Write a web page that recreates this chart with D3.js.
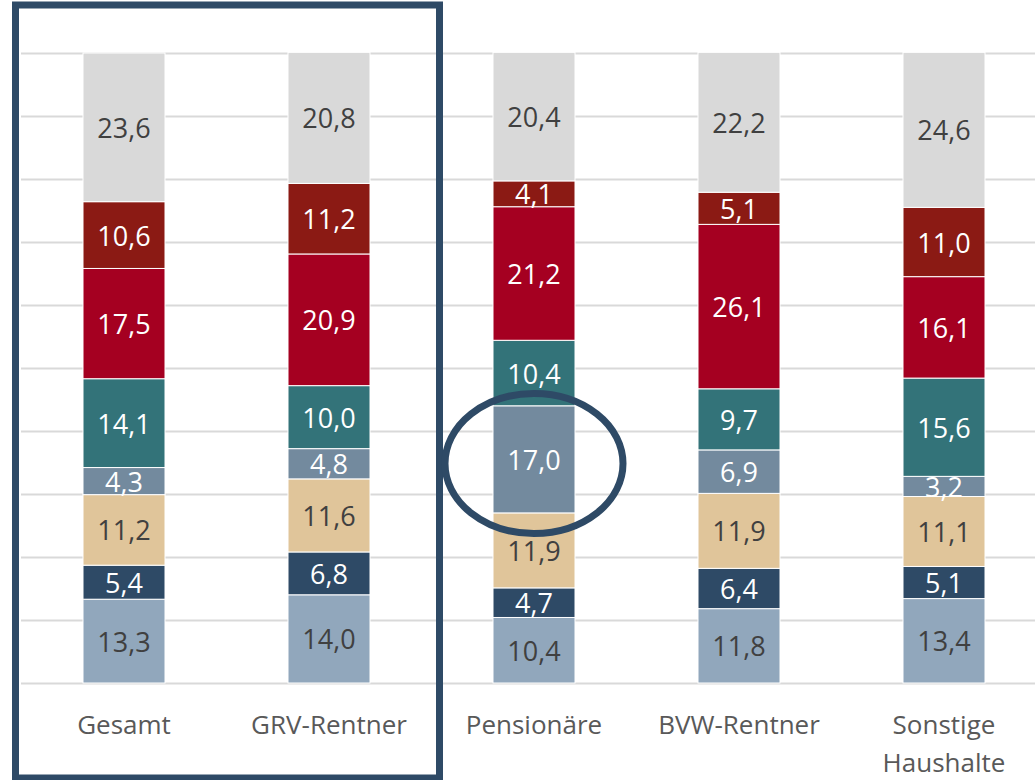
<!DOCTYPE html>
<html>
<head>
<meta charset="utf-8">
<script src="https://cdn.jsdelivr.net/npm/d3@7"></script>
<style>
  html, body { margin: 0; padding: 0; background: #fff; }
  svg { display: block; }
</style>
</head>
<body>
<svg id="chart" width="1035" height="780"></svg>
<script>
// categories, bottom-to-top segments
const categories = ["Gesamt", "GRV-Rentner", "Pensionäre", "BVW-Rentner", "Sonstige Haushalte"];
const seg1 = [13.3, 14.0, 10.4, 11.8, 13.4];
const seg2 = [5.4, 6.8, 4.7, 6.4, 5.1];
const seg3 = [11.2, 11.6, 11.9, 11.9, 11.1];
const seg4 = [4.3, 4.8, 17.0, 6.9, 3.2];
const seg5 = [14.1, 10.0, 10.4, 9.7, 15.6];
const seg6 = [17.5, 20.9, 21.2, 26.1, 16.1];
const seg7 = [10.6, 11.2, 4.1, 5.1, 11.0];
const seg8 = [23.6, 20.8, 20.4, 22.2, 24.6];
const gridTicks = [0, 10, 20, 30, 40, 50, 60, 70, 80, 90, 100];

const series = [seg1, seg2, seg3, seg4, seg5, seg6, seg7, seg8];
const colors = ["#91a7bc", "#2e4a66", "#e0c59a", "#738a9e", "#337379", "#a50021", "#8b1a14", "#d9d9d9"];
const textColors = ["#404040", "#fff", "#404040", "#fff", "#fff", "#fff", "#fff", "#404040"];

const svg = d3.select("#chart");

const x = d3.scaleBand()
    .domain(categories)
    .range([21.5, 1046.5])
    .paddingInner(0.6)
    .paddingOuter(0.3);

const y = d3.scaleLinear()
    .domain([0, 100])
    .range([683, 53]);

// gridlines
svg.append("g")
    .attr("transform", "translate(21,0)")
    .call(d3.axisLeft(y).tickValues(gridTicks).tickSize(-1030).tickFormat(""))
    .call(g => g.select(".domain").remove())
    .call(g => g.selectAll(".tick line").attr("stroke", "#d9d9d9").attr("stroke-width", 2));

// stack the segments
const rows = categories.map((c, i) => {
    const r = { cat: c };
    series.forEach((s, k) => { r["s" + k] = s[i]; });
    return r;
});
const keys = series.map((s, k) => "s" + k);
const stacked = d3.stack().keys(keys)(rows);

const layers = svg.append("g").selectAll("g")
    .data(stacked)
    .join("g")
    .attr("fill", (d, k) => colors[k]);

layers.selectAll("rect")
    .data(d => d)
    .join("rect")
    .attr("x", d => x(d.data.cat))
    .attr("width", x.bandwidth())
    .attr("y", d => y(d[1]))
    .attr("height", d => y(d[0]) - y(d[1]))
    .attr("stroke", "#fff")
    .attr("stroke-width", 1);

stacked.forEach((layer, k) => {
    svg.append("g").selectAll("text")
        .data(layer)
        .join("text")
        .attr("x", d => x(d.data.cat) + x.bandwidth() / 2)
        .attr("y", d => y((d[0] + d[1]) / 2))
        .attr("text-anchor", "middle")
        .attr("dominant-baseline", "central")
        .attr("font-family", "'Open Sans', 'Noto Sans', sans-serif")
        .attr("font-size", 27)
        .attr("fill", textColors[k])
        .text(d => (d[1] - d[0]).toFixed(1).replace(".", ","));
});

// category labels
const labels = svg.append("g").selectAll("text")
    .data(categories)
    .join("text")
    .attr("x", d => x(d) + x.bandwidth() / 2)
    .attr("y", 734)
    .attr("text-anchor", "middle")
    .attr("font-family", "'Open Sans', 'Noto Sans', sans-serif")
    .attr("font-size", 26)
    .attr("fill", "#595959");

labels.each(function(d) {
    const words = d === "Sonstige Haushalte" ? ["Sonstige", "Haushalte"] : [d];
    const t = d3.select(this);
    words.forEach((w, i) => {
        t.append("tspan")
            .attr("x", x(d) + x.bandwidth() / 2)
            .attr("dy", i === 0 ? 0 : 38)
            .text(w);
    });
});

// highlight frame around first two bars
svg.append("rect")
    .attr("x", 15.5)
    .attr("y", 5)
    .attr("width", 424)
    .attr("height", 773)
    .attr("fill", "none")
    .attr("stroke", "#2e4a66")
    .attr("stroke-width", 7);

// ellipse around the Pensionäre highlight
svg.append("ellipse")
    .attr("cx", x("Pensionäre") + x.bandwidth() / 2)
    .attr("cy", 463.5)
    .attr("rx", 89)
    .attr("ry", 70)
    .attr("fill", "none")
    .attr("stroke", "#2e4a66")
    .attr("stroke-width", 7);
</script>
</body>
</html>
